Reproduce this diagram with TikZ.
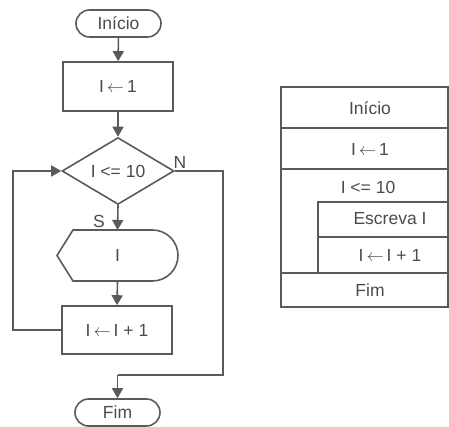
\documentclass[tikz,border=0pt]{standalone}
\usepackage{fontspec}
\setmainfont{Liberation Sans}
\usetikzlibrary{shapes.geometric,arrows.meta}
\definecolor{ln}{RGB}{90,90,90}
\definecolor{tx}{RGB}{75,75,75}
\newcommand{\lar}{\,\(\leftarrow\)\,}
\tikzset{
  every node/.style={font=\fontsize{17.5}{19}\selectfont, text=tx},
  ln/.style={draw=ln, line width=1.6pt},
  arr/.style={ln, -{Triangle[length=10pt,width=11pt]}},
  term/.style={ln, rectangle, rounded corners=13.5pt, minimum width=85pt, minimum height=27pt, inner sep=0pt},
  proc/.style={ln, rectangle, minimum width=110pt, minimum height=49pt, inner sep=0pt},
  dec/.style={ln, diamond, minimum width=112pt, minimum height=66pt, inner sep=0pt},
  lbl/.style={inner sep=0pt},
  nsline/.style={draw=ln, line width=1.4pt}
}
\begin{document}
\begin{tikzpicture}[x=1pt,y=1pt]
\useasboundingbox (0,0) rectangle (449,427);
% flowchart
\node[term] (ini) at (118.5,403.5) {Início};
\node[proc] (b1) at (118,340.5) {I\lar1};
\node[dec] (dec) at (118,256) {I <= 10};
\node[lbl, minimum width=121pt, minimum height=51pt] (disp) at (117.5,171.5) {I};
\draw[ln] (57,171.5) -- (73,197) -- (152.5,197) arc[start angle=90, end angle=-90, radius=25.5] -- (73,146) -- cycle;
\node[proc, minimum height=48pt] (b2) at (117,97) {I\lar I + 1};
\node[term] (fim) at (117.5,14.5) {Fim};
\node[lbl] (N) at (180,264.5) {N};
\node[lbl] (S) at (99,206) {S};
\coordinate (lb) at (13,97);
\coordinate (lt) at (13,256);
\coordinate (rt) at (223,256);
\coordinate (rb) at (223,52);
\coordinate (fb) at (117.5,52);
\coordinate (dtop) at (117.5,197);
\draw[arr] (ini) -- (b1);
\draw[arr] (b1) -- (dec);
\draw[arr] (dec.south) -- (dtop);
\draw[arr] (disp.south) -- (b2.north);
\draw[arr] (b2.west) -- (lb) -- (lt) -- (dec.west);
\draw[ln] (dec.east) -- (rt) -- (rb) -- (fb);
\draw[arr] (fb) -- (fim.north);
% Nassi-Shneiderman
\draw[nsline] (281,340) rectangle (448,120);
\draw[nsline] (281,299) -- (448,299);
\draw[nsline] (281,258) -- (448,258);
\draw[nsline] (318,154) -- (318,225) -- (448,225);
\draw[nsline] (318,190) -- (448,190);
\draw[nsline] (281,154) -- (448,154);
\node[lbl] (n1) at (370,319) {Início};
\node[lbl] (n2) at (370,278) {I\lar1};
\node[lbl] (n3) at (368,240) {I <= 10};
\node[lbl] (n4) at (390,208) {Escreva I};
\node[lbl] (n5) at (390,172) {I\lar I + 1};
\node[lbl] (n6) at (370,137) {Fim};
\end{tikzpicture}
\end{document}
